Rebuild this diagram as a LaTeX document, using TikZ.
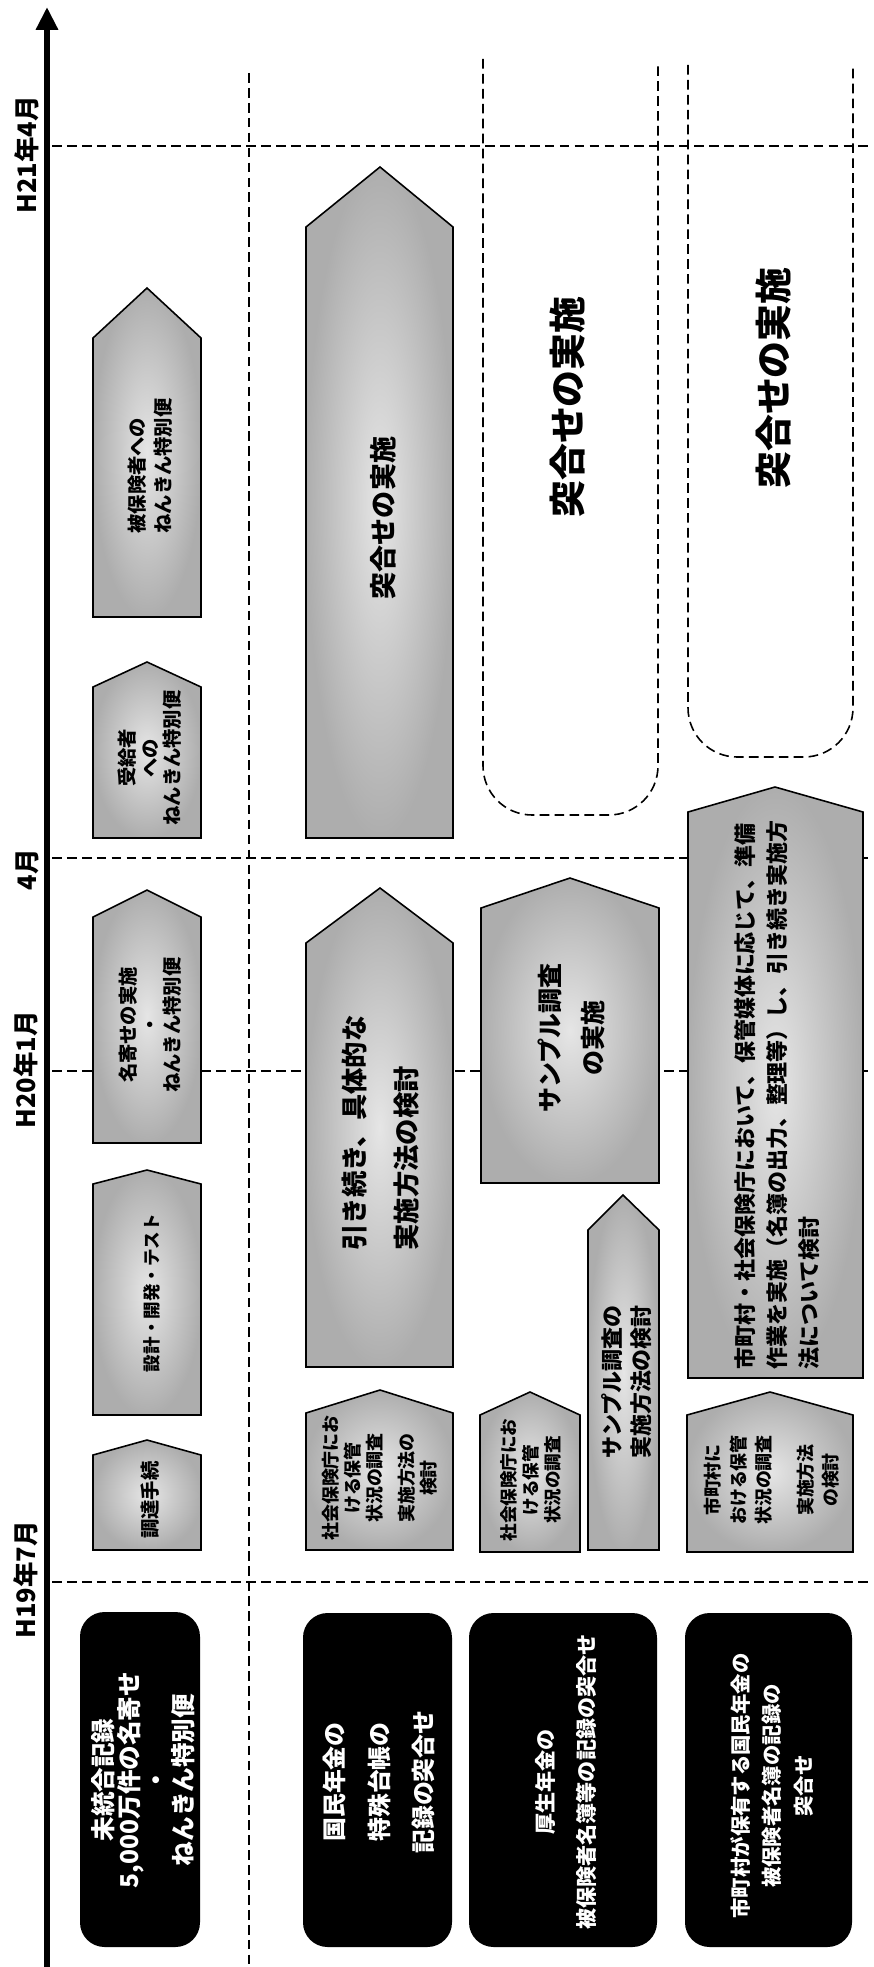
\documentclass[tikz,border=0pt]{standalone}
\usepackage{fontspec}
\setmainfont{Noto Sans CJK JP}
\usetikzlibrary{arrows.meta}

\begin{document}
\begin{tikzpicture}[x=0.02cm, y=-0.02cm,
  guide/.style={dash pattern=on 5.5pt off 3pt, line width=0.9pt},
  bar/.style={draw=black, line width=0.9pt, inner color=black!10, outer color=black!32},
  darkbox/.style={fill=black, rounded corners=14pt},
  tag/.style={rotate=90, inner sep=0pt}]
\fill[white] (0,0) rectangle (873,1967);
\useasboundingbox (0,0) rectangle (873,1967);

% time grid
\draw[guide] (52,146) -- (873,146);
\draw[guide] (52,858) -- (873,858);
\draw[guide] (52,1071) -- (873,1071);
\draw[guide] (52,1582) -- (873,1582);
\draw[guide] (249,73) -- (249,1967);
\draw[guide, rounded corners=28pt] (483,59) -- (483,815) -- (658,815) -- (658,61);
\draw[guide, rounded corners=28pt] (688,65) -- (688,757) -- (853,757) -- (853,66);

% time axis
\draw[line width=3.4pt, -{Triangle[width=12pt,length=13pt]}] (47,1967) -- (47,7);
\node[tag, font=\fontsize{14.5}{16}\selectfont\bfseries] (t21apr) at (27,155) {H21年4月};
\node[tag, font=\fontsize{14.5}{16}\selectfont\bfseries] (t20apr) at (27,870) {4月};
\node[tag, font=\fontsize{14.5}{16}\selectfont\bfseries] (t20jan) at (26,1070) {H20年1月};
\node[tag, font=\fontsize{14.5}{16}\selectfont\bfseries] (t19jul) at (26,1580) {H19年7月};

% column 1
\shadedraw[bar] (93,617) -- (93,338) -- (147,288) -- (201,338) -- (201,617) -- cycle;
\node[tag, align=left, font=\fontsize{11}{14.7}\selectfont\bfseries] (hihoken) at (150,466) {被保険者への\\ねんきん特別便};
\shadedraw[bar] (93,838) -- (93,687) -- (147,662) -- (201,687) -- (201,838) -- cycle;
\node[tag, align=center, font=\fontsize{11}{12.8}\selectfont\bfseries] (jukyu) at (150,758) {受給者\\への\\ねんきん特別便};
\shadedraw[bar] (93,1143) -- (93,917) -- (147,890) -- (201,917) -- (201,1143) -- cycle;
\node[tag, align=center, font=\fontsize{11}{12.5}\selectfont\bfseries] (nayose) at (150,1025) {名寄せの実施\\・\\ねんきん特別便};
\shadedraw[bar] (93,1415) -- (93,1184) -- (147,1170) -- (201,1184) -- (201,1415) -- cycle;
\node[tag, font=\fontsize{10}{12}\selectfont\bfseries] (sekkei) at (152,1293) {設計・開発・テスト};
\shadedraw[bar] (93,1550) -- (93,1455) -- (147,1440) -- (201,1455) -- (201,1550) -- cycle;
\node[tag, font=\fontsize{11}{12}\selectfont\bfseries] (chotatsu) at (150,1500) {調達手続};

% column 2
\shadedraw[bar] (306,838) -- (306,227) -- (380,167) -- (453,227) -- (453,838) -- cycle;
\node[tag, font=\fontsize{15.4}{17}\selectfont\bfseries] (totsugo1) at (383,518) {突合せの実施};
\shadedraw[bar] (306,1367) -- (306,943) -- (380,888) -- (453,943) -- (453,1367) -- cycle;
\node[tag, align=left, font=\fontsize{15}{29.5}\selectfont\bfseries] (kento1) at (381,1133) {引き続き、具体的な\\実施方法の検討};
\shadedraw[bar] (306,1550) -- (306,1413) -- (380,1390) -- (453,1413) -- (453,1550) -- cycle;
\node[tag, align=center, font=\fontsize{10.2}{12.5}\selectfont\bfseries] (shahoA) at (380,1478) {社会保険庁にお\\ける保管\\状況の調査\\[6pt]実施方法の\\検討};

% column 3
\shadedraw[bar] (481,1183) -- (481,908) -- (570,878) -- (659,908) -- (659,1183) -- cycle;
\node[tag, align=center, font=\fontsize{14.2}{24.4}\selectfont\bfseries] (sample) at (571,1038) {サンプル調査\\の実施};
\shadedraw[bar] (588,1550) -- (588,1230) -- (623,1195) -- (659,1230) -- (659,1550) -- cycle;
\node[tag, align=center, font=\fontsize{12.5}{16.5}\selectfont\bfseries] (samplekento) at (627,1382) {サンプル調査の\\実施方法の検討};
\shadedraw[bar] (480,1552) -- (480,1415) -- (530,1392) -- (580,1415) -- (580,1552) -- cycle;
\node[tag, align=center, font=\fontsize{10}{12.5}\selectfont\bfseries] (shahoB) at (531,1480) {社会保険庁にお\\ける保管\\状況の調査};
\node[tag, font=\fontsize{21}{24}\selectfont\bfseries] (totsugo2) at (568,407) {突合せの実施};

% column 4
\shadedraw[bar] (688,1378) -- (688,812) -- (775,787) -- (863,812) -- (863,1378) -- cycle;
\node[tag, align=left, font=\fontsize{12.5}{18.4}\selectfont\bfseries] (shichoson) at (777,1095) {市町村・社会保険庁において、保管媒体に応じて、準備\\作業を実施（名簿の出力、整理等）し、引き続き実施方\\法について検討};
\shadedraw[bar] (687,1552) -- (687,1415) -- (770,1392) -- (853,1415) -- (853,1552) -- cycle;
\node[tag, align=center, font=\fontsize{10.2}{14.5}\selectfont\bfseries] (shichosonB) at (772,1480) {市町村に\\おける保管\\状況の調査\\[9pt]実施方法\\の検討};
\node[tag, font=\fontsize{21}{24}\selectfont\bfseries] (totsugo3) at (774,378) {突合せの実施};

% black items
\fill[darkbox] (80,1612) rectangle (200,1947);
\node[tag, align=center, text=white, font=\fontsize{14}{15.3}\selectfont\bfseries] (mitogo) at (143,1780) {未統合記録\\5,000万件の名寄せ\\・\\ねんきん特別便};
\fill[darkbox] (303,1613) rectangle (452,1947);
\node[tag, align=center, text=white, font=\fontsize{13.6}{25.5}\selectfont\bfseries] (kokumin) at (379,1782) {国民年金の\\特殊台帳の\\記録の突合せ};
\fill[darkbox] (469,1613) rectangle (657,1947);
\node[tag, align=center, text=white, font=\fontsize{12}{23}\selectfont\bfseries] (kosei) at (566,1782) {厚生年金の\\被保険者名簿等の記録の突合せ};
\fill[darkbox] (685,1613) rectangle (852,1947);
\node[tag, align=center, text=white, font=\fontsize{11.6}{18}\selectfont\bfseries] (hoyu) at (772,1786) {市町村が保有する国民年金の\\被保険者名簿の記録の\\突合せ};
\end{tikzpicture}
\end{document}
